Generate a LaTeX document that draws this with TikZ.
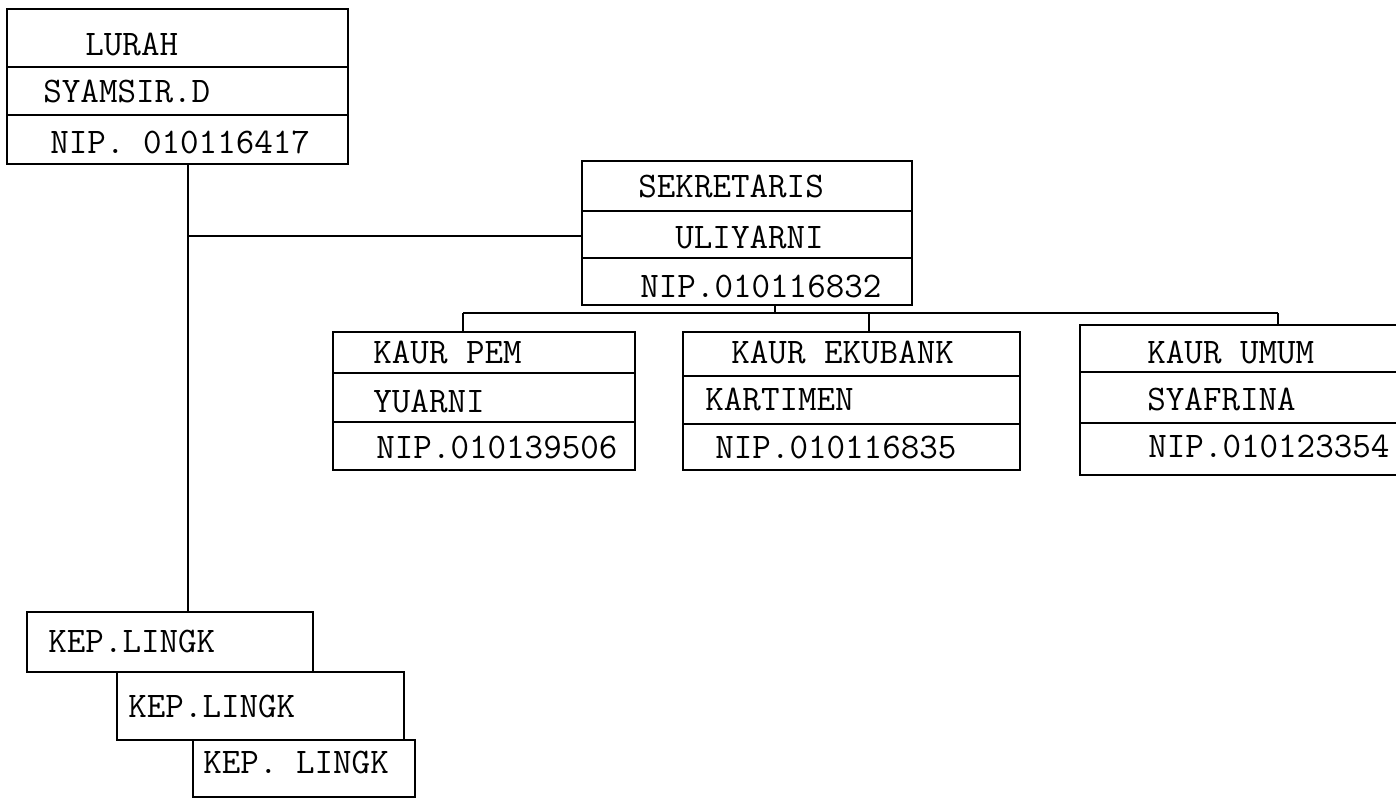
\documentclass[tikz,border=0pt]{standalone}
\usetikzlibrary{fit}
\begin{document}
\begin{tikzpicture}[x=0.5pt,y=-0.5pt,
  cell/.style={draw, line width=1.2pt, inner sep=0pt},
  conn/.style={line width=1.2pt},
  lbl/.style={anchor=base west, inner sep=0pt, font=\ttfamily\fontsize{18}{20}\selectfont}]
\useasboundingbox (0,0) rectangle (1396,800);
% LURAH
\node[cell, fit={(7,9)(348,67)}] (lurah1) {};
\node[cell, fit={(7,67)(348,115)}] (lurah2) {};
\node[cell, fit={(7,115)(348,164)}] (lurah3) {};
\node[lbl] (tl1) at (85,55) {LURAH};
\node[lbl] (tl2) at (43,102) {SYAMSIR.D};
\node[lbl] (tl3) at (50,153) {NIP. 010116417};
% SEKRETARIS
\node[cell, fit={(582,161)(912,211)}] (sek1) {};
\node[cell, fit={(582,211)(912,258)}] (sek2) {};
\node[cell, fit={(582,258)(912,305)}] (sek3) {};
\node[lbl] (ts1) at (638,197) {SEKRETARIS};
\node[lbl] (ts2) at (675,248) {ULIYARNI};
\node[lbl] (ts3) at (640,297) {NIP.010116832};
% KAUR PEM
\node[cell, fit={(333,332)(635,373)}] (pem1) {};
\node[cell, fit={(333,373)(635,422)}] (pem2) {};
\node[cell, fit={(333,422)(635,470)}] (pem3) {};
\node[lbl] (tp1) at (373,363) {KAUR PEM};
\node[lbl] (tp2) at (373,412) {YUARNI};
\node[lbl] (tp3) at (376,458) {NIP.010139506};
% KAUR EKUBANK
\node[cell, fit={(683,332)(1020,376)}] (eku1) {};
\node[cell, fit={(683,376)(1020,424)}] (eku2) {};
\node[cell, fit={(683,424)(1020,470)}] (eku3) {};
\node[lbl] (te1) at (731,363) {KAUR EKUBANK};
\node[lbl] (te2) at (705,410) {KARTIMEN};
\node[lbl] (te3) at (715,458) {NIP.010116835};
% KAUR UMUM
\node[cell, fit={(1080,325)(1402,372)}] (umum1) {};
\node[cell, fit={(1080,372)(1402,423)}] (umum2) {};
\node[cell, fit={(1080,423)(1402,475)}] (umum3) {};
\node[lbl] (tu1) at (1147,363) {KAUR UMUM};
\node[lbl] (tu2) at (1147,410) {SYAFRINA};
\node[lbl] (tu3) at (1148,457) {NIP.010123354};
% KEP.LINGK
\node[cell, fit={(27,612)(313,672)}] (kep1) {};
\node[cell, fit={(117,672)(404,740)}] (kep2) {};
\node[cell, fit={(193,740)(415,797)}] (kep3) {};
\node[lbl] (tk1) at (48,652) {KEP.LINGK};
\node[lbl] (tk2) at (128,717) {KEP.LINGK};
\node[lbl] (tk3) at (203,773) {KEP. LINGK};
% connectors
\coordinate (trunk) at (188,236);
\draw[conn] (trunk |- lurah3.south) -- (trunk |- kep1.north);
\draw[conn] (trunk) -- (trunk -| sek2.west);
\coordinate (busL) at (463,313);
\coordinate (busM) at (775,313);
\coordinate (busE) at (869,313);
\coordinate (busR) at (1278,313);
\draw[conn] (busM |- sek3.south) -- (busM);
\draw[conn] (busL) -- (busR);
\draw[conn] (busL) -- (busL |- pem1.north);
\draw[conn] (busE) -- (busE |- eku1.north);
\draw[conn] (busR) -- (busR |- umum1.north);
\end{tikzpicture}
\end{document}
